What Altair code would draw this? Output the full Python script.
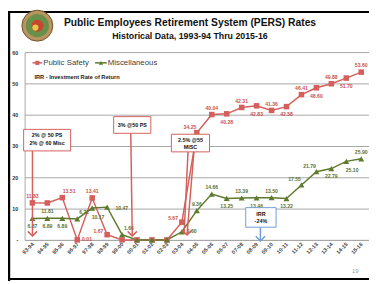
import altair as alt
import pandas as pd

# ---------------- data ----------------
categories = ["93-94", "94-95", "95-96", "96-97", "97-98", "98-99", "99-00", "00-01",
              "01-02", "02-03", "03-04", "04-05", "05-06", "06-07", "07-08", "08-09",
              "09-10", "10-11", "11-12", "12-13", "13-14", "14-15", "15-16"]
public_safety = [11.83, 11.81, 13.51, 0.01, 13.41, 1.67, 0.0, 0.0, 0.0, 0.0, 5.67, 34.25,
                 40.04, 40.28, 42.31, 42.83, 41.36, 42.58, 46.41, 48.60, 49.88, 51.70, 53.60]
miscellaneous = [6.87, 6.89, 6.89, 6.71, 10.17, 10.47, 1.66, 0.0, 0.0, 0.0, 2.60, 9.36,
                 14.66, 13.25, 13.39, 13.46, 13.50, 13.22, 17.55, 21.79, 22.79, 25.10, 25.90]
series_names = ["Public Safety", "Miscellaneous"]
y_ticks = [0, 10, 20, 30, 40, 50, 60]

# label placement (layout only)
ps_side = ["a", "b", "ar", "r", "a", "l", "", "", "", "", "l", "al", "a", "b", "a", "b",
           "a", "b", "a", "b", "a", "b", "a"]
misc_side = ["b", "b", "b", "ar", "br", "rr", "ar", "", "", "", "r", "a", "a", "b", "a", "b",
             "a", "b", "al", "al", "b", "br", "a"]
offsets = {"a": (0, -7), "b": (0, 8), "ar": (7, -7), "al": (-7, -6), "r": (10, -1),
           "l": (-9, -4), "br": (6, 9), "rr": (15, 1)}

RED = "#d45f5b"
GREEN = "#5f7a2e"
RED_L = "#c9504c"
GREEN_L = "#5a7030"
FONT = "Liberation Sans"

rows = []
for i, c in enumerate(categories):
    rows.append({"cat": c, "val": public_safety[i], "series": series_names[0]})
for i, c in enumerate(categories):
    rows.append({"cat": c, "val": miscellaneous[i], "series": series_names[1]})
df = pd.DataFrame(rows)

lab_rows = []
for i, c in enumerate(categories):
    if ps_side[i]:
        lab_rows.append({"cat": c, "val": public_safety[i], "lab": f"{public_safety[i]:.2f}",
                         "side": ps_side[i], "lc": GREEN_L if i == 1 else RED_L})
    if misc_side[i]:
        lab_rows.append({"cat": c, "val": miscellaneous[i], "lab": f"{miscellaneous[i]:.2f}",
                         "side": misc_side[i], "lc": GREEN_L})
labdf = pd.DataFrame(lab_rows)

x_enc = alt.X("cat:N", sort=categories, scale=alt.Scale(padding=0.52),
              axis=alt.Axis(title=None, labelAngle=-45, labelAlign="right",
                            labelBaseline="middle", labelFontSize=5.5, labelFontWeight="bold",
                            labelColor="#444444", labelFont=FONT, ticks=False,
                            domainColor="#a6a6a6", labelPadding=3))
y_enc = alt.Y("val:Q", scale=alt.Scale(domain=[0, 60], nice=False),
              axis=alt.Axis(title=None, values=y_ticks, grid=True, gridColor="#a6a6a6",
                            ticks=False, domainColor="#a6a6a6", labelFontSize=5.5,
                            labelFontWeight="bold", labelColor="#333333", labelFont=FONT,
                            labelPadding=7,
                            labelExpr="datum.value == 0 ? '-' : datum.label"))

color_enc = alt.Color("series:N", scale=alt.Scale(domain=series_names, range=[RED, GREEN]),
                      legend=None)

base = alt.Chart(df)
lines = base.mark_line(strokeWidth=1.5).encode(x=x_enc, y=y_enc, color=color_enc,
                                                detail="series:N")
ps_pts = base.transform_filter(alt.datum.series == series_names[0]).mark_point(
    shape="square", filled=True, size=32, opacity=1, color=RED).encode(x=x_enc, y=y_enc)
misc_pts = base.transform_filter(alt.datum.series == series_names[1]).mark_point(
    shape="triangle-up", filled=True, size=38, opacity=1, color=GREEN).encode(x=x_enc, y=y_enc)

label_layers = []
for side, (dx, dy) in offsets.items():
    label_layers.append(
        alt.Chart(labdf).transform_filter(alt.datum.side == side).mark_text(
            dx=dx, dy=dy, fontSize=5.2, fontWeight="bold", font=FONT).encode(
            x=x_enc, y=y_enc, text="lab:N", color=alt.Color("lc:N", scale=None)))

one = alt.Data(values=[{"k": 1}])


def txt(s, x, y, size=6, weight="bold", color="#111111", align="center"):
    return alt.Chart(one).mark_text(text=s, fontSize=size, fontWeight=weight, color=color,
                                    align=align, baseline="middle", font=FONT).encode(
        x=alt.value(x), y=alt.value(y))


def box(x1, x2, y1, y2, stroke):
    return alt.Chart(one).mark_rect(fill="white", stroke=stroke, strokeWidth=1).encode(
        x=alt.value(x1), x2=alt.value(x2), y=alt.value(y1), y2=alt.value(y2))


def seg(x1, y1, x2, y2, color, w=1.5):
    return alt.Chart(one).mark_rule(color=color, strokeWidth=w).encode(
        x=alt.value(x1), x2=alt.value(x2), y=alt.value(y1), y2=alt.value(y2))


def head(x, y, color):
    return alt.Chart(one).mark_point(shape="M -1 -1 L 0 0 L 1 -1", filled=False,
                                     color=color, strokeWidth=1.5, size=90, opacity=1).encode(
        x=alt.value(x), y=alt.value(y))


def dot(x, y, size, fill, stroke=None):
    kw = {"stroke": stroke, "strokeWidth": 1} if stroke else {}
    return alt.Chart(one).mark_point(shape="circle", filled=True, size=size, fill=fill,
                                     opacity=1, **kw).encode(x=alt.value(x), y=alt.value(y))


BLUE = "#6e9fd6"
deco = [
    # slide frame
    seg(-16, -42, -16, 234, "black", 2.5),
    seg(-16, -41, 352, -41, "black", 2),
    seg(-16, 232, 352, 232, "black", 2),
    # seal
    dot(13, -27, 1000, "#b89560", "#6e5128"),
    dot(13, -27, 560, "#6a8f4a"),
    dot(13, -27, 150, "#c8452f"),
    dot(11, -25, 40, "#e8c84a"),
    # titles
    txt("Public Employees Retirement System (PERS) Rates", 169, -30, 10.5),
    txt("Historical Data, 1993-94 Thru 2015-16", 169, -16, 9),
    # legend
    seg(8, 11, 18, 11, RED, 1.5),
    alt.Chart(one).mark_point(shape="square", filled=True, size=18, color=RED, opacity=1).encode(
        x=alt.value(13), y=alt.value(11)),
    txt("Public Safety", 19, 11, 8, "normal", "#404040", "left"),
    seg(72, 11, 84, 11, GREEN, 1.5),
    alt.Chart(one).mark_point(shape="triangle-up", filled=True, size=20, color=GREEN,
                              opacity=1).encode(x=alt.value(78), y=alt.value(11)),
    txt("Miscellaneous", 85, 11, 8, "normal", "#404040", "left"),
    txt("IRR - Investment Rate of Return", 10, 26, 5.8, "bold", "#222222", "left"),
    # annotation arrows
    seg(8, 101, 8, 188, RED), head(8, 188, RED),
    seg(108.5, 83, 110, 188, RED), head(110, 188, RED),
    seg(167, 102, 163, 186, RED), seg(173, 102, 166, 187, RED), head(166, 187, RED),
    seg(241, 179, 241, 193, BLUE), head(241, 193, BLUE),
    # annotation boxes
    box(-1, 47, 79, 101, RED),
    txt("2% @ 50 PS", 23, 85, 5.5), txt("2% @ 60  Misc", 23, 93, 5.5),
    box(91, 129, 66, 83, RED),
    txt("3% @50 PS", 110, 74.5, 5.5),
    box(150, 189, 84, 102, RED),
    txt("2.5% @55", 169.5, 89.5, 5.5), txt("MISC", 169.5, 97, 5.5),
    box(226, 257, 159, 179, BLUE),
    txt("IRR", 241.5, 165.5, 5.5), txt("-24%", 241.5, 172.5, 5.5),
    # page number
    txt("19", 338, 224, 6, "normal", "#999999"),
]

chart = alt.layer(lines, ps_pts, misc_pts, *label_layers, *deco).properties(
    width=352, height=192,
    autosize=alt.AutoSizeParams(type="none"),
    padding={"left": 17, "top": 42, "right": 0, "bottom": 42},
    background="white",
).configure_view(stroke=None)

chart.save("out.html", embed_options={"renderer": "svg", "actions": False})
